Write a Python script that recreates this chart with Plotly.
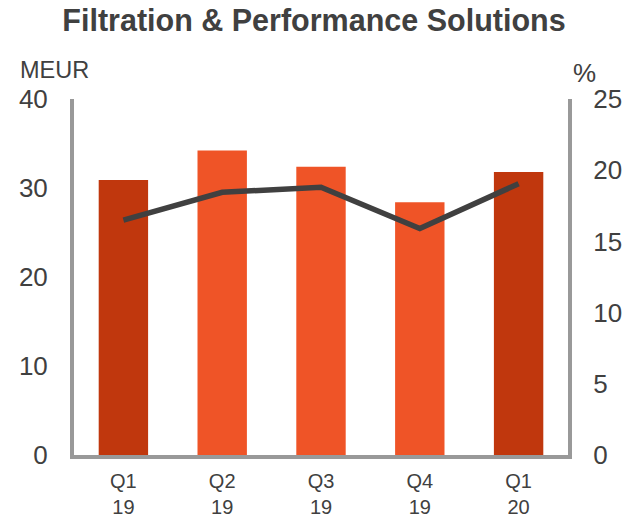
import plotly.graph_objects as go

quarters = ["Q1<br>19", "Q2<br>19", "Q3<br>19", "Q4<br>19", "Q1<br>20"]
sales_meur = [30.9, 34.2, 32.4, 28.4, 31.8]
margin_pct = [16.5, 18.45, 18.8, 15.9, 19.05]
bar_colors = ["#C0370D", "#EF5427", "#EF5427", "#EF5427", "#C0370D"]

fig = go.Figure()

fig.add_trace(go.Bar(
    x=quarters,
    y=sales_meur,
    marker=dict(color=bar_colors, line=dict(width=0)),
    width=0.5,
    yaxis="y",
))

fig.add_trace(go.Scatter(
    x=quarters,
    y=margin_pct,
    mode="lines",
    line=dict(color="#404040", width=5.5),
    yaxis="y2",
))

FONT = "Liberation Sans, Arial"
axis_font = dict(family=FONT, size=26, color="#404040")

fig.update_layout(
    width=628,
    height=517,
    paper_bgcolor="white",
    plot_bgcolor="white",
    showlegend=False,
    margin=dict(l=73.5, r=59.5, t=99.3, b=62.3, autoexpand=False),
    title=dict(
        text="<b>Filtration & Performance Solutions</b>",
        x=0.5,
        xanchor="center",
        xref="container",
        yref="container",
        y=1 - 20 / 517,
        yanchor="middle",
        font=dict(family=FONT, size=30.5, color="#404040"),
    ),
    xaxis=dict(
        showline=True,
        linecolor="#999999",
        linewidth=4,
        showgrid=False,
        automargin=False,
        ticks="outside",
        ticklen=5,
        tickcolor="rgba(0,0,0,0)",
        tickfont=dict(family=FONT, size=20, color="#404040"),
    ),
    yaxis=dict(
        range=[0, 40],
        tickvals=[0, 10, 20, 30, 40],
        showline=True,
        linecolor="#999999",
        linewidth=4,
        showgrid=False,
        zeroline=False,
        automargin=False,
        ticks="outside",
        ticklen=17,
        tickcolor="rgba(0,0,0,0)",
        tickfont=axis_font,
    ),
    yaxis2=dict(
        range=[0, 25],
        tickvals=[0, 5, 10, 15, 20, 25],
        overlaying="y",
        side="right",
        showline=True,
        linecolor="#999999",
        linewidth=4,
        showgrid=False,
        zeroline=False,
        automargin=False,
        ticks="outside",
        ticklen=16,
        tickcolor="rgba(0,0,0,0)",
        tickfont=axis_font,
    ),
    annotations=[
        dict(text="MEUR", xref="paper", yref="paper", x=-0.114, y=1.0, xanchor="left",
             yanchor="middle", yshift=29, showarrow=False,
             font=dict(family=FONT, size=23.5, color="#404040")),
        dict(text="%", xref="paper", yref="paper", x=1.007, y=1.0, xanchor="left",
             yanchor="middle", yshift=26, showarrow=False,
             font=dict(family=FONT, size=26, color="#404040")),
    ],
)

# drop the default 8px body margin so the figure fills the window exactly
fig.write_html(
    "out.html",
    config={"displayModeBar": False},
    post_script="document.body.style.margin='0';document.body.style.overflow='hidden';",
)
